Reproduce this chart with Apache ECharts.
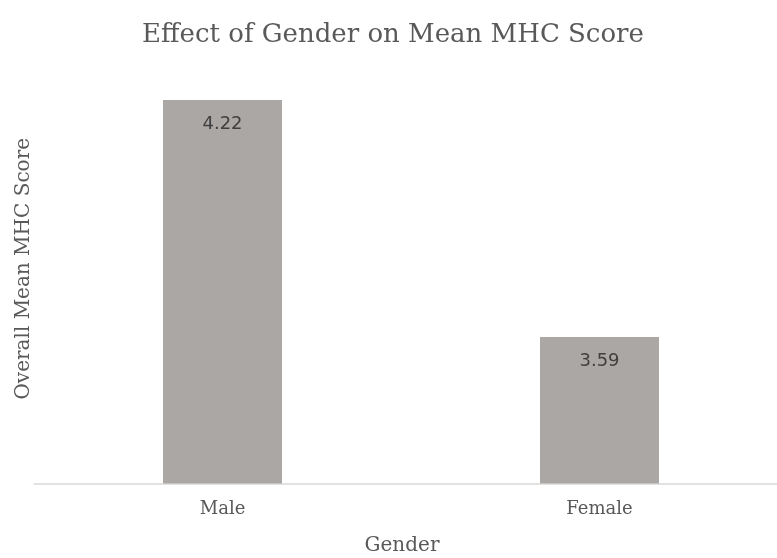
<!DOCTYPE html>
<html>
<head>
<meta charset="utf-8">
<script src="https://cdn.jsdelivr.net/npm/echarts@6/dist/echarts.min.js"></script>
<style>html,body{margin:0;padding:0;background:#fff;}#c{width:777px;height:558px;}</style>
</head>
<body>
<div id="c"></div>
<script>
const categories = ['Male', 'Female'];
const meanScores = [4.22, 3.59];
const titleText = 'Effect of Gender on Mean MHC Score';
const xAxisName = 'Gender';
const yAxisName = 'Overall Mean MHC Score';

const chart = echarts.init(document.getElementById('c'));
chart.setOption({
  animation: false,
  title: {
    text: titleText,
    left: 388,
    textAlign: 'center',
    top: 17,
    textStyle: { fontFamily: 'DejaVu Serif', fontSize: 26, fontWeight: 'normal', color: '#595959' }
  },
  grid: { left: 34, right: -11, top: 70, bottom: 74.5, containLabel: false, outerBoundsMode: 'none' },
  xAxis: {
    type: 'category',
    data: categories,
    name: xAxisName,
    nameLocation: 'middle',
    nameGap: 52,
    nameTextStyle: { fontFamily: 'DejaVu Serif', fontSize: 20, color: '#595959', padding: [0, 18, 0, 0] },
    axisLine: { lineStyle: { color: '#d9d9d9', width: 1.5 } },
    axisTick: { show: false },
    axisLabel: { fontFamily: 'DejaVu Serif', fontSize: 18, color: '#595959', margin: 17 }
  },
  yAxis: {
    type: 'value',
    min: 3.2,
    max: 4.3,
    name: yAxisName,
    nameLocation: 'middle',
    nameGap: 0,
    nameTextStyle: { fontFamily: 'DejaVu Serif', fontSize: 20, color: '#595959', padding: [0, 0, 0, 16] },
    axisLine: { show: false },
    axisTick: { show: false },
    axisLabel: { show: false },
    splitLine: { show: false }
  },
  series: [{
    type: 'bar',
    data: meanScores,
    barWidth: 119,
    itemStyle: { color: '#aba7a5' },
    label: {
      show: true,
      position: 'insideTop',
      distance: 15,
      fontFamily: 'DejaVu Sans',
      fontSize: 18,
      color: '#404040'
    }
  }]
});
</script>
</body>
</html>
